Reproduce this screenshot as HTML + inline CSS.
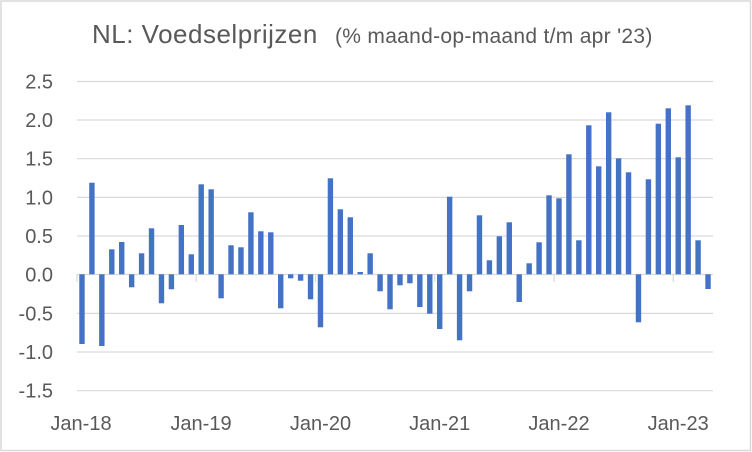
<!DOCTYPE html>
<html>
<head>
<meta charset="utf-8">
<style>
html,body{margin:0;padding:0;background:#fff;}
svg{display:block;}
text{font-family:"Liberation Sans",sans-serif;fill:#595959;}
</style>
</head>
<body>
<svg width="752" height="452" viewBox="0 0 752 452" xmlns="http://www.w3.org/2000/svg">
<rect x="0" y="0" width="752" height="452" fill="#fff"/>
<rect x="1" y="1" width="749.5" height="449.5" fill="none" stroke="#d9d9d9" stroke-width="1.5"/>
<text x="92" y="43" font-size="26" letter-spacing="0.5">NL: Voedselprijzen</text>
<text x="335" y="43" font-size="21" letter-spacing="0.3">(% maand-op-maand t/m apr '23)</text>
<g stroke="#d9d9d9" stroke-width="1.2">
<line x1="77" y1="81.5" x2="713" y2="81.5"/>
<line x1="77" y1="120" x2="713" y2="120"/>
<line x1="77" y1="158.7" x2="713" y2="158.7"/>
<line x1="77" y1="197.4" x2="713" y2="197.4"/>
<line x1="77" y1="236" x2="713" y2="236"/>
<line x1="77" y1="274.5" x2="713" y2="274.5"/>
<line x1="77" y1="313.4" x2="713" y2="313.4"/>
<line x1="77" y1="352" x2="713" y2="352"/>
<line x1="77" y1="390.7" x2="713" y2="390.7"/>
<line x1="77" y1="274.5" x2="77" y2="282"/>
<line x1="196.25" y1="274.5" x2="196.25" y2="282"/>
<line x1="315.5" y1="274.5" x2="315.5" y2="282"/>
<line x1="434.75" y1="274.5" x2="434.75" y2="282"/>
<line x1="554" y1="274.5" x2="554" y2="282"/>
<line x1="673.25" y1="274.5" x2="673.25" y2="282"/>
</g>
<g font-size="20" text-anchor="end">
<text x="53" y="88.5">2.5</text>
<text x="53" y="127">2.0</text>
<text x="53" y="165.7">1.5</text>
<text x="53" y="204.4">1.0</text>
<text x="53" y="243">0.5</text>
<text x="53" y="281.5">0.0</text>
<text x="53" y="320.4">-0.5</text>
<text x="53" y="359">-1.0</text>
<text x="53" y="397.7">-1.5</text>
</g>
<g font-size="20" text-anchor="middle">
<text x="81" y="430">Jan-18</text>
<text x="201" y="430">Jan-19</text>
<text x="320.5" y="430">Jan-20</text>
<text x="439.7" y="430">Jan-21</text>
<text x="559" y="430">Jan-22</text>
<text x="678.2" y="430">Jan-23</text>
</g>
<g fill="#4472c4">
<rect x="79.27" y="274.3" width="5.4" height="69.7"/>
<rect x="89.21" y="182.7" width="5.4" height="91.6"/>
<rect x="99.14" y="274.3" width="5.4" height="71.7"/>
<rect x="109.08" y="249.3" width="5.4" height="25"/>
<rect x="119.02" y="242" width="5.4" height="32.3"/>
<rect x="128.96" y="274.3" width="5.4" height="13"/>
<rect x="138.89" y="253.3" width="5.4" height="21"/>
<rect x="148.83" y="228.3" width="5.4" height="46"/>
<rect x="158.77" y="274.3" width="5.4" height="29"/>
<rect x="168.71" y="274.3" width="5.4" height="15"/>
<rect x="178.64" y="225" width="5.4" height="49.3"/>
<rect x="188.58" y="254.3" width="5.4" height="20"/>
<rect x="198.52" y="184.3" width="5.4" height="90"/>
<rect x="208.46" y="189.3" width="5.4" height="85"/>
<rect x="218.39" y="274.3" width="5.4" height="24"/>
<rect x="228.33" y="245.3" width="5.4" height="29"/>
<rect x="238.27" y="247.3" width="5.4" height="27"/>
<rect x="248.21" y="212.3" width="5.4" height="62"/>
<rect x="258.14" y="231.3" width="5.4" height="43"/>
<rect x="268.08" y="232.3" width="5.4" height="42"/>
<rect x="278.02" y="274.3" width="5.4" height="34"/>
<rect x="287.96" y="274.3" width="5.4" height="4"/>
<rect x="297.89" y="274.3" width="5.4" height="6.4"/>
<rect x="307.83" y="274.3" width="5.4" height="25"/>
<rect x="317.77" y="274.3" width="5.4" height="53"/>
<rect x="327.71" y="178.3" width="5.4" height="96"/>
<rect x="337.64" y="209.3" width="5.4" height="65"/>
<rect x="347.58" y="217.3" width="5.4" height="57"/>
<rect x="357.52" y="272" width="5.4" height="2.3"/>
<rect x="367.46" y="253.3" width="5.4" height="21"/>
<rect x="377.39" y="274.3" width="5.4" height="17"/>
<rect x="387.33" y="274.3" width="5.4" height="35"/>
<rect x="397.27" y="274.3" width="5.4" height="11"/>
<rect x="407.21" y="274.3" width="5.4" height="9"/>
<rect x="417.14" y="274.3" width="5.4" height="32.7"/>
<rect x="427.08" y="274.3" width="5.4" height="39.4"/>
<rect x="437.02" y="274.3" width="5.4" height="54.7"/>
<rect x="446.96" y="196.7" width="5.4" height="77.6"/>
<rect x="456.89" y="274.3" width="5.4" height="66"/>
<rect x="466.83" y="274.3" width="5.4" height="17"/>
<rect x="476.77" y="215.3" width="5.4" height="59"/>
<rect x="486.71" y="260.3" width="5.4" height="14"/>
<rect x="496.64" y="236.3" width="5.4" height="38"/>
<rect x="506.58" y="222.3" width="5.4" height="52"/>
<rect x="516.52" y="274.3" width="5.4" height="27.7"/>
<rect x="526.46" y="263.3" width="5.4" height="11"/>
<rect x="536.39" y="242.3" width="5.4" height="32"/>
<rect x="546.33" y="195.3" width="5.4" height="79"/>
<rect x="556.27" y="198.3" width="5.4" height="76"/>
<rect x="566.21" y="154.3" width="5.4" height="120"/>
<rect x="576.14" y="240.3" width="5.4" height="34"/>
<rect x="586.08" y="125.3" width="5.4" height="149"/>
<rect x="596.02" y="166.3" width="5.4" height="108"/>
<rect x="605.96" y="112.3" width="5.4" height="162"/>
<rect x="615.89" y="158.3" width="5.4" height="116"/>
<rect x="625.83" y="172.3" width="5.4" height="102"/>
<rect x="635.77" y="274.3" width="5.4" height="48"/>
<rect x="645.71" y="179.3" width="5.4" height="95"/>
<rect x="655.64" y="123.7" width="5.4" height="150.6"/>
<rect x="665.58" y="108.3" width="5.4" height="166"/>
<rect x="675.52" y="157.3" width="5.4" height="117"/>
<rect x="685.46" y="105.3" width="5.4" height="169"/>
<rect x="695.39" y="240.3" width="5.4" height="34"/>
<rect x="705.33" y="274.3" width="5.4" height="14.7"/>
</g>
</svg>
</body>
</html>
